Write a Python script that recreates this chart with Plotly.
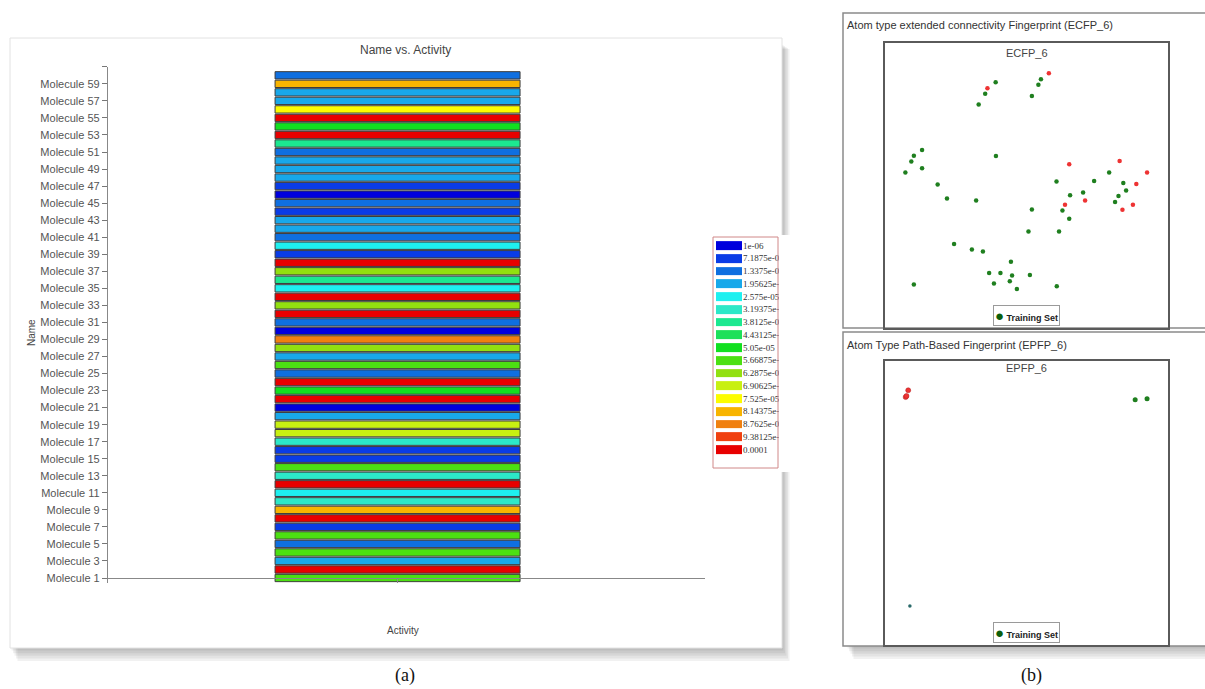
import plotly.graph_objects as go

W, H = 1205, 689

# ---------------- data ----------------
mol_index = list(range(1, 61))
mol_tick_vals = list(range(1, 62, 2))
mol_tick_text = [f"Molecule {i}" for i in range(1, 60, 2)] + [""]

levels = [1e-06, 7.1875e-06, 1.3375e-05, 1.95625e-05, 2.575e-05, 3.19375e-05,
          3.8125e-05, 4.43125e-05, 5.05e-05, 5.66875e-05, 6.2875e-05, 6.90625e-05,
          7.525e-05, 8.14375e-05, 8.7625e-05, 9.38125e-05, 0.0001]
level_labels = ["1e-06", "7.1875e-06", "1.3375e-05", "1.95625e-05", "2.575e-05",
                "3.19375e-05", "3.8125e-05", "4.43125e-05", "5.05e-05", "5.66875e-05",
                "6.2875e-05", "6.90625e-05", "7.525e-05", "8.14375e-05", "8.7625e-05",
                "9.38125e-05", "0.0001"]
level_colors = ["#0000dd", "#0a3ce6", "#0f6fe0", "#18a8ea", "#1ef0f0", "#2ce8c8",
                "#1ce890", "#1ee05a", "#12e020", "#4ce012", "#92e010", "#c8f012",
                "#fcfc00", "#f8b400", "#f08010", "#f04010", "#e80000"]

# activity of Molecule 1 .. Molecule 60
activity = [
    5.66875e-05, 1e-04, 1.95625e-05, 5.66875e-05, 1.3375e-05, 5.66875e-05, 7.1875e-06, 1e-04, 8.14375e-05, 3.19375e-05,
    2.575e-05, 1e-04, 3.19375e-05, 5.66875e-05, 7.1875e-06, 7.1875e-06, 3.19375e-05, 6.90625e-05, 6.90625e-05, 1.95625e-05,
    1e-06, 1e-04, 5.05e-05, 1e-04, 1.3375e-05, 5.66875e-05, 1.95625e-05, 6.2875e-05, 8.7625e-05, 1e-06,
    1.3375e-05, 1e-04, 6.2875e-05, 1e-04, 2.575e-05, 3.8125e-05, 6.2875e-05, 1e-04, 7.1875e-06, 2.575e-05,
    1.3375e-05, 1.95625e-05, 1.95625e-05, 7.1875e-06, 1.3375e-05, 1e-06, 7.1875e-06, 1.95625e-05, 1.95625e-05, 1.95625e-05,
    1.3375e-05, 3.8125e-05, 1e-04, 5.05e-05, 1e-04, 7.525e-05, 1.95625e-05, 1.95625e-05, 8.14375e-05, 1.3375e-05,
]
cell_span = [1] * len(mol_index)   # one "Activity" cell per molecule

# ECFP_6 map
ecfp_train_x = [55.1, 54.2, 51.9, 39.1, 35.4, 33.1, 13.1, 10.2, 9.3, 13.1, 7.2, 39.2, 18.6, 21.9,
                32.2, 60.6, 73.9, 79.2, 84.2, 85.2, 82.5, 81.3, 70.0, 65.4, 62.7, 65.1, 51.9, 50.7,
                61.5, 24.4, 30.7, 34.6, 44.5, 36.8, 40.8, 44.9, 51.2, 38.5, 44.1, 46.6, 60.7, 10.2]
ecfp_train_y = [87.4, 85.4, 81.5, 86.3, 82.3, 78.5, 62.5, 60.5, 58.5, 56.1, 54.6, 60.4, 50.4, 45.5,
                44.8, 51.5, 51.6, 54.6, 50.9, 48.3, 46.4, 44.3, 47.6, 46.6, 41.3, 38.4, 41.6, 33.9,
                33.9, 29.5, 27.6, 26.9, 23.3, 19.3, 19.3, 18.4, 18.6, 15.6, 16.4, 13.7, 14.7, 15.3]
ecfp_red_x = [57.9, 36.2, 65.1, 82.9, 92.6, 88.8, 70.7, 63.6, 83.9, 87.6]
ecfp_red_y = [89.5, 84.2, 57.5, 58.7, 54.6, 50.6, 44.8, 43.3, 41.5, 43.3]

# EPFP_6 map
epfp_train_x = [88.4, 92.6]
epfp_train_y = [86.3, 86.6]
epfp_red_x = [8.2, 7.3, 7.6]
epfp_red_y = [89.6, 87.2, 87.6]
epfp_other_x = [8.8]
epfp_other_y = [13.7]

# ---------------- helpers ----------------
def px(x):
    return x / W

def py(y):
    return 1 - y / H

n = len(levels)
step = levels[1] - levels[0]
cmin, cmax = levels[0] - step / 2, levels[-1] + step / 2
cscale = []
for i, c in enumerate(level_colors):
    cscale.append([i / n, c])
    cscale.append([(i + 1) / n, c])

fig = go.Figure()

# bars (Name vs. Activity)
fig.add_trace(go.Bar(
    y=mol_index, x=cell_span, base=0, orientation="h", width=0.86,
    marker=dict(color=activity, colorscale=cscale, cmin=cmin, cmax=cmax,
                line=dict(color="#3c3c3c", width=1)),
    showlegend=False, hoverinfo="skip", xaxis="x", yaxis="y"))

# colour key
fig.add_trace(go.Heatmap(
    z=[[v] for v in levels], y=level_labels, x=[0],
    colorscale=cscale, zmin=cmin, zmax=cmax, showscale=False, ygap=4,
    hoverinfo="skip", xaxis="x4", yaxis="y4"))

green = "#1f7f1f"
red = "#ee3333"
mk = dict(size=4.5)
fig.add_trace(go.Scatter(x=ecfp_train_x, y=ecfp_train_y, mode="markers",
                         marker=dict(color=green, **mk), showlegend=False,
                         xaxis="x2", yaxis="y2"))
fig.add_trace(go.Scatter(x=ecfp_red_x, y=ecfp_red_y, mode="markers",
                         marker=dict(color=red, **mk), showlegend=False,
                         xaxis="x2", yaxis="y2"))
fig.add_trace(go.Scatter(x=epfp_train_x, y=epfp_train_y, mode="markers",
                         marker=dict(color=green, size=5), showlegend=False,
                         xaxis="x3", yaxis="y3"))
fig.add_trace(go.Scatter(x=epfp_red_x, y=epfp_red_y, mode="markers",
                         marker=dict(color=red, size=5, line=dict(color="#b02020", width=0.5)),
                         showlegend=False, xaxis="x3", yaxis="y3"))
fig.add_trace(go.Scatter(x=epfp_other_x, y=epfp_other_y, mode="markers",
                         marker=dict(color="#2a6a6a", size=3.5), showlegend=False,
                         xaxis="x3", yaxis="y3"))

axfont = dict(family="Liberation Sans, Arial, sans-serif", size=11, color="#555")
box_ax = dict(range=[0, 100], showline=True, mirror=True, linecolor="#5a5a5a", linewidth=2,
              showticklabels=False, ticks="", showgrid=False, zeroline=False, fixedrange=True)

fig.update_layout(
    width=W, height=H, margin=dict(l=0, r=0, t=0, b=0),
    paper_bgcolor="white", plot_bgcolor="rgba(0,0,0,0)", showlegend=False,
    xaxis=dict(domain=[px(108), px(705)], range=[-0.682, 1.755], showline=True,
               linecolor="#888", linewidth=1.2, tickvals=[0.5], ticktext=[""],
               ticks="outside", ticklen=4, tickcolor="#888", showgrid=False, zeroline=False,
               anchor="free", position=py(578), fixedrange=True),
    yaxis=dict(domain=[py(582.7), py(66.8)], range=[0.45, 61], tickvals=mol_tick_vals,
               ticktext=mol_tick_text, ticks="outside", ticklen=5, tickcolor="#777",
               showline=True, linecolor="#888", linewidth=1.2, showgrid=False, zeroline=False,
               tickfont=axfont, anchor="x", fixedrange=True),
    xaxis4=dict(domain=[px(716), px(742)], visible=False, anchor="y4", fixedrange=True),
    yaxis4=dict(domain=[py(455.9), py(239.1)], autorange="reversed", side="right", anchor="x4",
                type="category", ticks="", showline=False, showgrid=False,
                tickfont=dict(family="Liberation Serif, Times New Roman, serif", size=9, color="#333"),
                fixedrange=True),
    xaxis2=dict(domain=[px(885), px(1168)], anchor="y2", **box_ax),
    yaxis2=dict(domain=[py(328), py(43.3)], anchor="x2", **box_ax),
    xaxis3=dict(domain=[px(885), px(1168)], anchor="y3", **box_ax),
    yaxis3=dict(domain=[py(645), py(360.7)], anchor="x3", **box_ax),
)

shapes = []
# soft shadows
for i in range(1, 6):
    a = 0.055
    shapes.append(dict(type="rect", xref="paper", yref="paper", layer="below",
                       x0=px(10 + i * 1.5), x1=px(782 + i * 1.5), y0=py(648 + i * 2.6), y1=py(44 + i),
                       fillcolor=f"rgba(0,0,0,{a})", line=dict(width=0)))
    shapes.append(dict(type="rect", xref="paper", yref="paper", layer="below",
                       x0=px(846 + i * 1.5), x1=px(1205), y0=py(646 + i * 2.6), y1=py(340),
                       fillcolor=f"rgba(0,0,0,{a})", line=dict(width=0)))
# left panel
shapes.append(dict(type="rect", xref="paper", yref="paper", layer="below",
                   x0=px(10), x1=px(782), y0=py(648), y1=py(38),
                   fillcolor="white", line=dict(color="#e2e2e2", width=1)))
# right panels
shapes.append(dict(type="rect", xref="paper", yref="paper", layer="below",
                   x0=px(843), x1=px(1210), y0=py(328), y1=py(13),
                   fillcolor="white", line=dict(color="#8a8a8a", width=1.5)))
shapes.append(dict(type="rect", xref="paper", yref="paper", layer="below",
                   x0=px(843), x1=px(1210), y0=py(646), y1=py(332),
                   fillcolor="white", line=dict(color="#8a8a8a", width=1.5)))
# colour key frame (clip overflowing labels)
shapes.append(dict(type="rect", xref="paper", yref="paper", layer="above",
                   x0=px(779), x1=px(800), y0=py(472), y1=py(235),
                   fillcolor="white", line=dict(width=0)))
shapes.append(dict(type="rect", xref="paper", yref="paper", layer="above",
                   x0=px(713), x1=px(778), y0=py(468), y1=py(237),
                   fillcolor="rgba(0,0,0,0)", line=dict(color="#d08888", width=1)))
fig.update_layout(shapes=shapes)

sans = "Liberation Sans, Arial, sans-serif"
serif = "Liberation Serif, Times New Roman, serif"
ann = [
    dict(text="Name vs. Activity", x=px(405), y=py(50), font=dict(family=sans, size=12, color="#444")),
    dict(text="Name", x=px(31), y=py(333), textangle=-90, font=dict(family=sans, size=10, color="#444")),
    dict(text="Activity", x=px(403), y=py(630), font=dict(family=sans, size=10, color="#444")),
    dict(text="(a)", x=px(405), y=py(675), font=dict(family=serif, size=18, color="#111")),
    dict(text="(b)", x=px(1031), y=py(675), font=dict(family=serif, size=18, color="#111")),
    dict(text="Atom type extended connectivity Fingerprint (ECFP_6)", x=px(845), y=py(25),
         xanchor="left", font=dict(family=sans, size=11, color="#333")),
    dict(text="ECFP_6", x=px(1026.5), y=py(53), font=dict(family=sans, size=11, color="#444")),
    dict(text="Atom Type Path-Based Fingerprint (EPFP_6)", x=px(845), y=py(345),
         xanchor="left", font=dict(family=sans, size=11, color="#333")),
    dict(text="EPFP_6", x=px(1026.5), y=py(368), font=dict(family=sans, size=11, color="#444")),
]
for yy in (315, 632):
    ann.append(dict(text='<span style="font-size:15px;color:#0b5e0b">●</span> <b>Training Set</b>',
                    x=px(1026), y=py(yy), bgcolor="white", bordercolor="#9a9a9a", borderwidth=1,
                    borderpad=1, font=dict(family=sans, size=9, color="#222")))
for a in ann:
    a.setdefault("xref", "paper")
    a.setdefault("yref", "paper")
    a.setdefault("showarrow", False)
    a.setdefault("xanchor", "center")
    a.setdefault("yanchor", "middle")
fig.update_layout(annotations=ann)

fig.write_html("out.html", config={"displayModeBar": False},
               post_script="document.body.style.margin='0';document.body.style.overflow='hidden';")
